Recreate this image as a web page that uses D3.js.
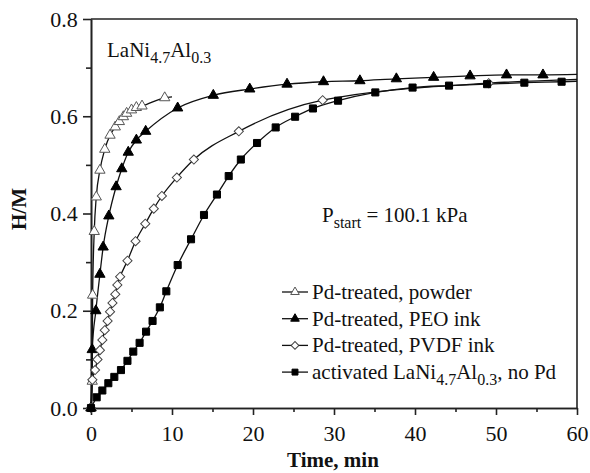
<!DOCTYPE html>
<html><head><meta charset="utf-8">
<script src="https://cdn.jsdelivr.net/npm/d3@7"></script>
<style>
body{margin:0;background:#fff;}
text{font-family:"Liberation Serif","Times New Roman",serif;fill:#111;}
</style></head>
<body><svg id="chart" width="590" height="473"></svg>
<script>
// ---- data (time in min, H/M) ----
const powderT = [0, 0.15, 0.2, 0.4, 0.65, 1.1, 1.7, 2.35, 3.0, 3.5, 4.0, 4.4, 5.0, 5.6, 6.3, 9.1];
const powderV = [0, 0.055, 0.232, 0.363, 0.434, 0.489, 0.532, 0.561, 0.578, 0.589, 0.599, 0.606, 0.613, 0.618, 0.621, 0.638];
const powderLineEnd = [10.0, 0.64];

const peoT = [0, 0.15, 0.6, 1.1, 1.5, 2.2, 3.1, 3.8, 4.6, 5.6, 6.75, 10.7, 15.1, 19.6, 24.2, 28.7, 33.2, 37.7, 42.3, 46.8, 51.3, 55.8];
const peoV = [0, 0.12, 0.2, 0.275, 0.331, 0.395, 0.455, 0.492, 0.526, 0.551, 0.569, 0.617, 0.643, 0.656, 0.666, 0.671, 0.673, 0.677, 0.68, 0.683, 0.685, 0.685];
const peoLineEnd = [60, 0.686];

const pvdfT = [0, 0.17, 0.5, 0.8, 1.1, 1.4, 1.7, 2.05, 2.35, 2.65, 3.0, 3.25, 3.6, 4.5, 5.5, 6.7, 7.75, 8.75, 10.6, 12.7, 18.25, 28.6, 49.1];
const pvdfV = [0, 0.058, 0.078, 0.1, 0.119, 0.14, 0.16, 0.179, 0.198, 0.216, 0.234, 0.253, 0.27, 0.303, 0.343, 0.379, 0.41, 0.436, 0.474, 0.511, 0.569, 0.633, 0.668];
const pvdfLineEnd = [60, 0.676];

const actT = [0, 0.7, 1.4, 2.14, 2.88, 3.7, 4.5, 5.22, 6.0, 6.8, 7.6, 8.5, 9.3, 10.7, 12.35, 13.95, 15.55, 17.0, 18.5, 20.5, 22.8, 25.2, 27.4, 30.5, 35.1, 39.7, 44.2, 48.9, 53.5, 58.1];
const actV = [0, 0.022, 0.036, 0.051, 0.064, 0.078, 0.097, 0.116, 0.134, 0.157, 0.179, 0.207, 0.24, 0.294, 0.347, 0.397, 0.439, 0.477, 0.511, 0.545, 0.577, 0.599, 0.616, 0.632, 0.649, 0.659, 0.663, 0.666, 0.669, 0.671];
const actLineEnd = [60, 0.672];

const xTicks = [0, 10, 20, 30, 40, 50, 60];
const xMinor = [5, 15, 25, 35, 45, 55];
const yTicks = [0.0, 0.2, 0.4, 0.6, 0.8];
const yMinor = [0.1, 0.3, 0.5, 0.7];

// ---- layout ----
const svg = d3.select("#chart");
const L = 91, R = 577, T = 19, B = 408;
const x = d3.scaleLinear().domain([0, 60]).range([L, R]);
const y = d3.scaleLinear().domain([0, 0.8]).range([B, T]);

// frame (top & right)
svg.append("line").attr("x1", L).attr("x2", R).attr("y1", T).attr("y2", T).attr("stroke", "#222").attr("stroke-width", 1.6);
svg.append("line").attr("x1", R).attr("x2", R).attr("y1", T).attr("y2", B).attr("stroke", "#222").attr("stroke-width", 1.6);

// axes
const xAxis = svg.append("g").attr("transform", `translate(0,${B})`)
  .call(d3.axisBottom(x).tickValues(xTicks).tickFormat(d3.format("d")).tickSize(7).tickSizeOuter(0));
const xAxisMinor = svg.append("g").attr("transform", `translate(0,${B})`)
  .call(d3.axisBottom(x).tickValues(xMinor).tickFormat("").tickSize(4).tickSizeOuter(0));
const yAxis = svg.append("g").attr("transform", `translate(${L},0)`)
  .call(d3.axisLeft(y).tickValues(yTicks).tickFormat(d3.format(".1f")).tickSize(8).tickSizeOuter(0));
const yAxisMinor = svg.append("g").attr("transform", `translate(${L},0)`)
  .call(d3.axisLeft(y).tickValues(yMinor).tickFormat("").tickSize(5).tickSizeOuter(0));
[xAxis, xAxisMinor, yAxis, yAxisMinor].forEach(g => {
  g.attr("font-family", null);
  g.selectAll("path").attr("stroke", "#222").attr("stroke-width", 1.6);
  g.selectAll("line").attr("stroke", "#222").attr("stroke-width", 1.6);
  g.selectAll("text").attr("font-size", 22).attr("fill", "#111");
});
xAxis.selectAll("text").attr("dy", "1.05em");
yAxis.selectAll("text").attr("dx", "-0.1em");

// axis titles
svg.append("text").attr("x", 333).attr("y", 467).attr("text-anchor", "middle")
  .attr("font-size", 21).attr("font-weight", "bold").text("Time, min");
svg.append("text").attr("transform", "translate(26,209) rotate(-90)").attr("text-anchor", "middle")
  .attr("font-size", 21).attr("font-weight", "bold").text("H/M");

// lines
const lineGen = d3.line().x(d => x(d[0])).y(d => y(d[1])).curve(d3.curveMonotoneX);
function pts(T, V) { return T.map((t, i) => [t, V[i]]); }
const series = [
  {T: powderT, V: powderV, end: powderLineEnd, sym: "tri", fill: "#fff", stroke: "#555"},
  {T: peoT, V: peoV, end: peoLineEnd, sym: "tri", fill: "#000", stroke: "#000"},
  {T: pvdfT, V: pvdfV, end: pvdfLineEnd, sym: "dia", fill: "#fff", stroke: "#444"},
  {T: actT, V: actV, end: actLineEnd, sym: "sq", fill: "#000", stroke: "#000"}
];
series.forEach(s => {
  const p = pts(s.T, s.V).concat([s.end]);
  svg.append("path").attr("d", lineGen(p)).attr("fill", "none").attr("stroke", "#111").attr("stroke-width", 1.3);
});
function symPath(kind, scale) {
  if (kind === "tri") return d3.symbol().type(d3.symbolTriangle).size(46 * scale)();
  if (kind === "sq") return d3.symbol().type(d3.symbolSquare).size(50 * scale)();
  return d3.symbol().type(d3.symbolSquare).size(42 * scale)();
}
series.forEach(s => {
  svg.append("g").selectAll("path").data(pts(s.T, s.V)).join("path")
    .attr("d", symPath(s.sym, 1))
    .attr("transform", d => `translate(${x(d[0])},${y(d[1])})` + (s.sym === "dia" ? " rotate(45)" : ""))
    .attr("fill", s.fill).attr("stroke", s.stroke).attr("stroke-width", 1);
});

// annotation: LaNi4.7Al0.3
const t1 = svg.append("text").attr("x", 107).attr("y", 57).attr("font-size", 21);
t1.append("tspan").text("LaNi");
t1.append("tspan").attr("dy", 6).attr("font-size", 16).text("4.7");
t1.append("tspan").attr("dy", -6).text("Al");
t1.append("tspan").attr("dy", 6).attr("font-size", 16).text("0.3");

// Pstart
const t2 = svg.append("text").attr("x", 322).attr("y", 222).attr("font-size", 21);
t2.append("tspan").text("P");
t2.append("tspan").attr("dy", 6).attr("font-size", 16).text("start");
t2.append("tspan").attr("dy", -6).text(" = 100.1 kPa");

// legend
const legendLabels = [
  ["Pd-treated, powder"],
  ["Pd-treated, PEO ink"],
  ["Pd-treated, PVDF ink"],
  ["activated LaNi", "4.7", "Al", "0.3", ", no Pd"]
];
const ly0 = 292, ldy = 26.7;
legendLabels.forEach((lab, i) => {
  const s = series[i];
  const yy = ly0 + i * ldy;
  svg.append("line").attr("x1", 282).attr("x2", 308).attr("y1", yy).attr("y2", yy).attr("stroke", "#111").attr("stroke-width", 1.3);
  svg.append("path").attr("d", symPath(s.sym, 0.7))
    .attr("transform", `translate(295,${yy})` + (s.sym === "dia" ? " rotate(45)" : ""))
    .attr("fill", s.fill).attr("stroke", s.stroke).attr("stroke-width", 1);
  const tx = svg.append("text").attr("x", 312).attr("y", yy + 7).attr("font-size", 21);
  lab.forEach((part, k) => {
    const sp = tx.append("tspan").text(part);
    if (k % 2 === 1) sp.attr("font-size", 16).attr("dy", 6);
    else if (k > 0) sp.attr("dy", -6);
  });
});
</script></body></html>
